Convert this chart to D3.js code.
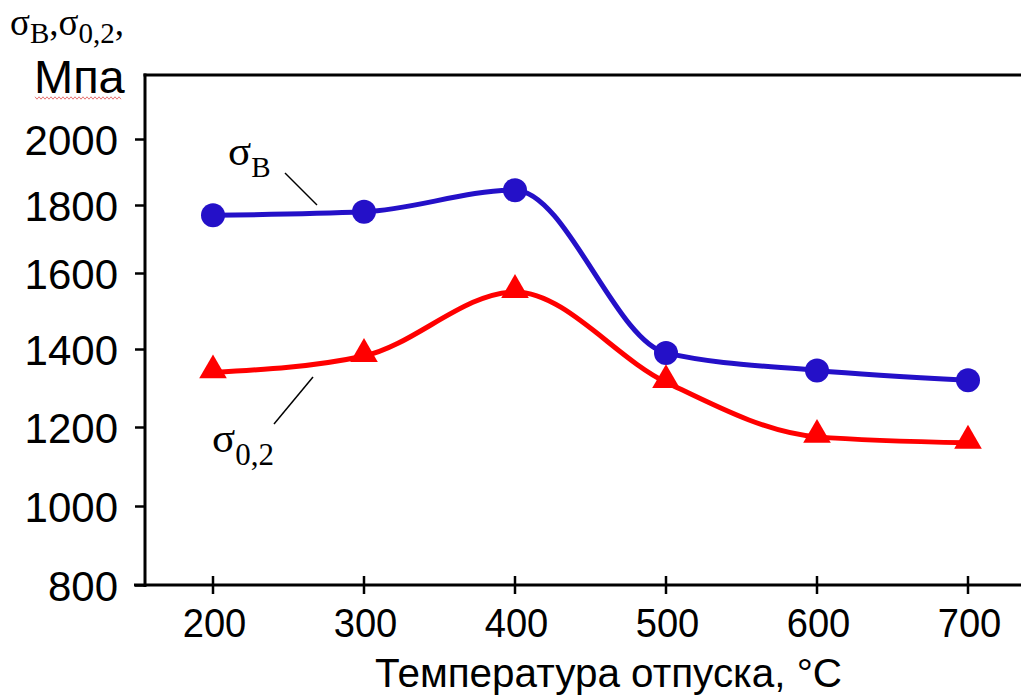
<!DOCTYPE html>
<html>
<head>
<meta charset="utf-8">
<script src="https://cdn.jsdelivr.net/npm/d3@7"></script>
<style>
  html, body { margin: 0; padding: 0; background: #fff; }
  svg { display: block; }
</style>
</head>
<body>
<svg id="chart" width="1021" height="700"></svg>
<script>
// Tempering temperature, °C
const temperatures = [200, 300, 400, 500, 600, 700];
// Ultimate tensile strength σB, MPa
const sigmaB = [1770, 1780, 1845, 1390, 1345, 1320];
// Yield strength σ0.2, MPa
const sigma02 = [1340, 1382, 1550, 1315, 1175, 1160];
// Axis tick labels
const yTicks = [800, 1000, 1200, 1400, 1600, 1800, 2000];
const xTicks = [200, 300, 400, 500, 600, 700];

const svg = d3.select("#chart");
const sans = "'Liberation Sans', Arial, sans-serif";
const serif = "'Liberation Serif', 'Times New Roman', serif";

// The printed value axis is unevenly spaced, so a piecewise scale follows its tick marks
const y = d3.scaleLinear()
  .domain(yTicks)
  .range([585, 506, 427, 349, 273, 205, 139]);
const x = d3.scaleLinear().domain([200, 700]).range([213, 968]);

const axisColor = "#000";

// Frame: left axis, bottom axis, top edge
svg.append("line").attr("x1", 145).attr("x2", 145).attr("y1", 73.5).attr("y2", 587)
  .attr("stroke", axisColor).attr("stroke-width", 3);
svg.append("line").attr("x1", 134).attr("x2", 1021).attr("y1", 585).attr("y2", 585)
  .attr("stroke", axisColor).attr("stroke-width", 3);
svg.append("line").attr("x1", 143.5).attr("x2", 1021).attr("y1", 75).attr("y2", 75)
  .attr("stroke", axisColor).attr("stroke-width", 3);

// Y ticks and labels
const yAxis = d3.axisLeft(y).tickValues(yTicks).tickSize(10).tickPadding(10).tickFormat(d3.format("d"));
const gy = svg.append("g").attr("transform", "translate(145,0)").call(yAxis);
gy.select(".domain").remove();
gy.selectAll(".tick line").attr("stroke", axisColor).attr("stroke-width", 2.5);
gy.selectAll(".tick text")
  .attr("font-family", sans).attr("font-size", 42).attr("fill", "#000")
  .attr("x", -27).attr("dy", "0.36em");

// X ticks crossing the axis, with labels below
const gx = svg.append("g");
gx.selectAll("line").data(xTicks).join("line")
  .attr("x1", d => x(d)).attr("x2", d => x(d))
  .attr("y1", 576).attr("y2", 594)
  .attr("stroke", axisColor).attr("stroke-width", 2.5);
gx.selectAll("text").data(xTicks).join("text")
  .attr("transform", d => `translate(${x(d) + 1.5},637) scale(0.93,1)`)
  .attr("text-anchor", "middle")
  .attr("font-family", sans).attr("font-size", 41).attr("fill", "#000")
  .text(d => d);

// X axis title
svg.append("text")
  .attr("x", 375).attr("y", 687)
  .attr("font-family", sans).attr("font-size", 40).attr("fill", "#000")
  .attr("textLength", 467).attr("lengthAdjust", "spacingAndGlyphs")
  .text("Температура отпуска, °C");

// Y axis title: σB, σ0,2, / Мпа
const yt = svg.append("text").attr("x", 10).attr("y", 35)
  .attr("font-family", serif).attr("fill", "#000");
yt.append("tspan").attr("font-size", 37).text("σ");
yt.append("tspan").attr("font-size", 29).attr("dy", 8).text("B");
yt.append("tspan").attr("font-size", 37).attr("dy", -8).text(",σ");
yt.append("tspan").attr("font-size", 29).attr("dy", 8).text("0,2");
yt.append("tspan").attr("font-size", 37).attr("dy", -8).text(",");

svg.append("text").attr("x", 34).attr("y", 93)
  .attr("font-family", sans).attr("font-size", 47).attr("fill", "#000")
  .text("Мпа");
// spell-check squiggle under the unit
const wave = d3.range(0, 44).map(i => [35 + i * 2, 98 + (i % 2 ? 1.2 : -1.2)]);
svg.append("path").attr("d", d3.line()(wave))
  .attr("fill", "none").attr("stroke", "#e05050").attr("stroke-width", 0.8);

// Curves
const line = d3.line().curve(d3.curveMonotoneX)
  .x((d, i) => x(temperatures[i])).y(d => y(d));

const blue = "#2410c8";
const red = "#ff0000";

svg.append("path").datum(sigmaB).attr("d", line)
  .attr("fill", "none").attr("stroke", blue).attr("stroke-width", 5);
svg.append("path").datum(sigma02).attr("d", line)
  .attr("fill", "none").attr("stroke", red).attr("stroke-width", 5);

// Markers
svg.append("g").selectAll("circle").data(sigmaB).join("circle")
  .attr("cx", (d, i) => x(temperatures[i])).attr("cy", d => y(d))
  .attr("r", 12).attr("fill", blue);

const tri = d3.symbol().type(d3.symbolTriangle).size(330);
svg.append("g").selectAll("path").data(sigma02).join("path")
  .attr("transform", (d, i) => `translate(${x(temperatures[i])},${y(d) - 2})`)
  .attr("d", tri).attr("fill", red);

// Series labels with leader lines
const lb = svg.append("text").attr("x", 228).attr("y", 165)
  .attr("font-family", serif).attr("fill", "#000");
lb.append("tspan").attr("font-size", 43).text("σ");
lb.append("tspan").attr("font-size", 29).attr("dy", 12).text("B");
svg.append("line").attr("x1", 285).attr("y1", 173).attr("x2", 317).attr("y2", 205)
  .attr("stroke", "#000").attr("stroke-width", 1.5);

const lr = svg.append("text").attr("x", 212).attr("y", 452)
  .attr("font-family", serif).attr("fill", "#000");
lr.append("tspan").attr("font-size", 43).text("σ");
lr.append("tspan").attr("font-size", 31).attr("dy", 13).text("0,2");
svg.append("line").attr("x1", 313).attr("y1", 377).attr("x2", 274).attr("y2", 424)
  .attr("stroke", "#000").attr("stroke-width", 1.5);
</script>
</body>
</html>
